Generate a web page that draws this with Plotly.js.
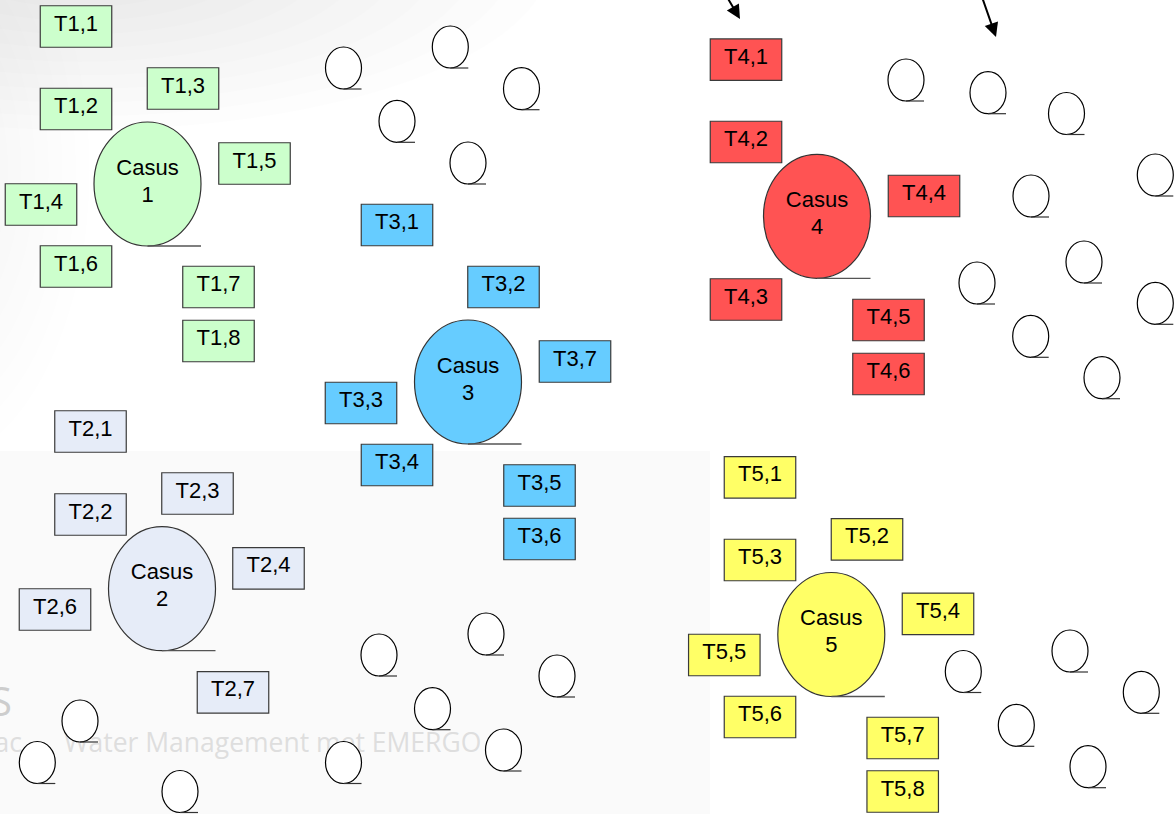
<!DOCTYPE html>
<html>
<head>
<meta charset="utf-8">
<script src="https://cdn.plot.ly/plotly-3.0.1.min.js"></script>
<style>html,body{margin:0;padding:0;background:#fff;}#chart{width:1175px;height:814px;}</style>
</head>
<body>
<div id="chart"></div>
<script>
// ---- data: task labels and their centre positions (picture pixels) ----
const t1Labels = ['T1,1','T1,2','T1,3','T1,4','T1,5','T1,6','T1,7','T1,8'];
const t1X = [76, 76, 183, 41, 254.5, 76, 218.5, 218.5];
const t1Y = [26.5, 109, 88.5, 204.5, 163.5, 266.5, 287, 341];

const t2Labels = ['T2,1','T2,2','T2,3','T2,4','T2,6','T2,7'];
const t2X = [90.5, 90.5, 197.5, 268.5, 55, 233];
const t2Y = [431.5, 514.5, 493.5, 568.3, 609.5, 692.3];

const t3Labels = ['T3,1','T3,2','T3,3','T3,4','T3,5','T3,6','T3,7'];
const t3X = [397, 503.5, 361, 397, 539.5, 539.5, 575];
const t3Y = [225, 287, 403, 465, 485.5, 539, 361.5];

const t4Labels = ['T4,1','T4,2','T4,3','T4,4','T4,5','T4,6'];
const t4X = [746, 746, 746, 924, 888.5, 888.5];
const t4Y = [59.7, 142, 299.5, 196, 320, 374];

const t5Labels = ['T5,1','T5,2','T5,3','T5,4','T5,5','T5,6','T5,7','T5,8'];
const t5X = [760, 867, 760, 938, 724.3, 760, 902.7, 902.7];
const t5Y = [477.3, 539.3, 560, 613.8, 655, 717, 738, 791.5];

const caseWord = 'Casus';
const caseNumbers = ['1','2','3','4','5'];
const caseX = [147.5, 162, 468, 817, 831.3];
const caseY = [184, 588.7, 382, 216.3, 634.5];

const nodeX = [343.5, 450.3, 521.5, 397, 468,
  906, 988, 1066.5, 1155.3, 1031, 1084, 977, 1155.3, 1030.7, 1102,
  80, 37.3, 180, 343.5, 486, 379, 557, 432.5, 503.5,
  963.3, 1070, 1141.3, 1016.3, 1088];
const nodeY = [68, 47, 88.7, 121.3, 163,
  80, 92.7, 113.5, 175, 196, 262, 283, 303.3, 336.3, 377.7,
  721, 762.5, 791.5, 762.5, 634, 655, 676, 708.7, 750,
  671.5, 651, 692.3, 725.3, 766.7];

const arrowTailX = [727, 982];
const arrowTailY = [-3, -3];
const arrowTipX = [740, 996];
const arrowTipY = [19, 37];

const watermarkText = 'Water Management met EMERGO';

// ---- styling ----
const groups = [
  {labels: t1Labels, x: t1X, y: t1Y, fill: '#ccffcc'},
  {labels: t2Labels, x: t2X, y: t2Y, fill: '#e6ecf8'},
  {labels: t3Labels, x: t3X, y: t3Y, fill: '#66ccff'},
  {labels: t4Labels, x: t4X, y: t4Y, fill: '#ff5353'},
  {labels: t5Labels, x: t5X, y: t5Y, fill: '#ffff66'}
];
const caseFills = ['#ccffcc', '#e6ecf8', '#66ccff', '#ff5353', '#ffff66'];
const RW = 71.5, RH = 41.5;   // task box size
const CRX = 53.5, CRY = 62;   // case ellipse radii
const NRX = 18, NRY = 21;     // small node radii
const FONT = '"Liberation Sans", Arial, sans-serif';
const FS = 22;

const shapes = [];
// faint cloudy background in the top-left
for (let k = 0; k < 10; k++) {
  const f = 1 - k * 0.08;
  shapes.push({type:'circle', xref:'x', yref:'y', x0:80-470*f, x1:80+470*f, y0:-40-170*f, y1:-40+170*f,
    fillcolor:'rgba(0,0,0,0.006)', line:{width:0}, layer:'below'});
  shapes.push({type:'circle', xref:'x', yref:'y', x0:-80-170*f, x1:-80+170*f, y0:170-300*f, y1:170+300*f,
    fillcolor:'rgba(0,0,0,0.005)', line:{width:0}, layer:'below'});
}
shapes.push({type:'rect', xref:'x', yref:'y', x0:-5, x1:710, y0:451, y1:820, fillcolor:'#fafafa', line:{width:0}, layer:'below'});

// small nodes (above the faint watermark)
for (let i = 0; i < nodeX.length; i++) {
  shapes.push({type:'circle', xref:'x', yref:'y', x0:nodeX[i]-NRX, x1:nodeX[i]+NRX, y0:nodeY[i]-NRY, y1:nodeY[i]+NRY,
    fillcolor:'#ffffff', line:{color:'#000000', width:1.2}, layer:'above'});
  shapes.push({type:'line', xref:'x', yref:'y', x0:nodeX[i], x1:nodeX[i]+NRX, y0:nodeY[i]+NRY, y1:nodeY[i]+NRY,
    line:{color:'#333333', width:1.2}, layer:'above'});
}
// task boxes (below the label texts)
groups.forEach(function(g){
  for (let i = 0; i < g.x.length; i++) {
    shapes.push({type:'rect', xref:'x', yref:'y', x0:g.x[i]-RW/2, x1:g.x[i]+RW/2, y0:g.y[i]-RH/2, y1:g.y[i]+RH/2,
      fillcolor:g.fill, line:{color:'#3a3a3a', width:1.2}, layer:'below'});
  }
});
// case ellipses
for (let i = 0; i < caseX.length; i++) {
  shapes.push({type:'circle', xref:'x', yref:'y', x0:caseX[i]-CRX, x1:caseX[i]+CRX, y0:caseY[i]-CRY, y1:caseY[i]+CRY,
    fillcolor:caseFills[i], line:{color:'#333333', width:1.2}, layer:'below'});
  shapes.push({type:'line', xref:'x', yref:'y', x0:caseX[i], x1:caseX[i]+CRX, y0:caseY[i]+CRY, y1:caseY[i]+CRY,
    line:{color:'#555555', width:1.3}, layer:'below'});
}

const traces = [];
// watermark
traces.push({type:'scatter', mode:'text', x:[64], y:[745], text:[watermarkText], textposition:'middle right',
  textfont:{family:'"Open Sans", sans-serif', size:26.5, color:'#dedede'}, hoverinfo:'skip', cliponaxis:true});
traces.push({type:'scatter', mode:'text', x:[22], y:[745], text:['ac'], textposition:'middle left',
  textfont:{family:'"Open Sans", sans-serif', size:26.5, color:'#dedede'}, hoverinfo:'skip', cliponaxis:true});
traces.push({type:'scatter', mode:'text', x:[12], y:[706], text:['S'], textposition:'middle left',
  textfont:{family:'"Open Sans", sans-serif', size:40, color:'#cdcdcd'}, hoverinfo:'skip', cliponaxis:true});

groups.forEach(function(g){
  traces.push({type:'scatter', mode:'text', x:g.x, y:g.y.map(function(v){return v-1.5;}), text:g.labels,
    textposition:'middle center', textfont:{family:FONT, size:FS, color:'#000000'}, hoverinfo:'skip'});
});
traces.push({type:'scatter', mode:'text', x:caseX, y:caseY.map(function(v){return v-15;}),
  text:caseX.map(function(){return caseWord;}), textposition:'middle center',
  textfont:{family:FONT, size:FS, color:'#000000'}, hoverinfo:'skip'});
traces.push({type:'scatter', mode:'text', x:caseX, y:caseY.map(function(v){return v+12;}),
  text:caseNumbers, textposition:'middle center',
  textfont:{family:FONT, size:FS, color:'#000000'}, hoverinfo:'skip'});

const annotations = arrowTipX.map(function(x, i){
  return {x:x, y:arrowTipY[i], ax:arrowTailX[i], ay:arrowTailY[i], xref:'x', yref:'y', axref:'x', ayref:'y',
    text:'', showarrow:true, arrowhead:2, arrowsize:1.4, arrowwidth:2, arrowcolor:'#000000', standoff:0, startstandoff:0};
});

const layout = {
  width:1175, height:814, margin:{l:0, r:0, t:0, b:0, pad:0},
  paper_bgcolor:'#ffffff', plot_bgcolor:'#ffffff', showlegend:false,
  xaxis:{range:[0,1175], visible:false, fixedrange:true},
  yaxis:{range:[814,0], visible:false, fixedrange:true},
  shapes:shapes, annotations:annotations
};
Plotly.newPlot('chart', traces, layout, {displayModeBar:false, staticPlot:true});
</script>
</body>
</html>
